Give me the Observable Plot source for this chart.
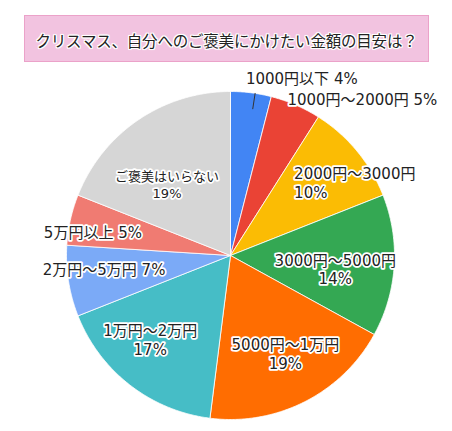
<!DOCTYPE html>
<html><head><meta charset="utf-8">
<script src="https://cdn.jsdelivr.net/npm/d3@7"></script>
<script src="https://cdn.jsdelivr.net/npm/@observablehq/plot@0.6"></script>
<style>
body{margin:0;background:#fff;width:452px;height:431px;overflow:hidden;position:relative;font-family:"Noto Sans CJK JP",sans-serif;}
#title{position:absolute;left:24px;top:15px;width:405px;height:47px;box-sizing:border-box;background:#f2c3e0;border:1px solid #eba2c9;
 text-align:center;line-height:43px;padding-top:3px;font-size:15.5px;color:#222;letter-spacing:-0.2px;
 text-shadow:1px 0 0 #fff,-1px 0 0 #fff,0 1px 0 #fff,0 -1px 0 #fff,1px 1px 0 #fff,-1px -1px 0 #fff,1px -1px 0 #fff,-1px 1px 0 #fff,0 0 3px #fff;}
#chart{position:absolute;left:0;top:62px;}
</style></head>
<body>
<div id="title"></div>
<div id="chart"></div>
<script>
// ---- data ----
const titleText = "クリスマス、自分へのご褒美にかけたい金額の目安は？";
const categories = ["1000円以下","1000円～2000円","2000円～3000円","3000円～5000円","5000円～1万円","1万円～2万円","2万円～5万円","5万円以上","ご褒美はいらない"];
const shares = [4,5,10,14,19,17,7,5,19];
const colors = ["#4285f4","#ea4335","#fbbc04","#34a853","#ff6d01","#46bdc6","#7baaf7","#f07b72","#d6d6d6"];

// ---- label layout (pixels relative to pie centre) ----
const labelRadius = [179,171,115,105,110,113,128,141,88];
const labelShift = [[-7,0],[-11,0],[-25,0],[0,7],[5,0],[-11,-5],[0,-7],[0,7],[-14,1]];
const labelAnchor = ["start","start","start","middle","middle","middle","middle","middle","middle"];
const labelBreak = [false,false,true,true,true,true,false,false,true];
const labelSmall = [false,false,false,false,false,false,false,false,true];

document.getElementById("title").textContent = titleText;

const R = 164, W = 452, H = 369, CX = 230, CY = 193;
const total = d3.sum(shares);
let cum = 0;
const slices = categories.map((c,i) => {
  const a0 = cum/total*2*Math.PI; cum += shares[i];
  const a1 = cum/total*2*Math.PI;
  return {c, i, a0, a1, mid:(a0+a1)/2};
});
const pts = [];
for (const s of slices) {
  pts.push({c:s.c, x:0, y:0});
  const n = Math.max(2, Math.ceil((s.a1-s.a0)/(Math.PI/360)));
  for (let k=0;k<=n;k++){ const a = s.a0+(s.a1-s.a0)*k/n; pts.push({c:s.c, x:Math.sin(a), y:Math.cos(a)}); }
  pts.push({c:s.c, x:0, y:0});
}
const labels = slices.map(s => {
  const r = labelRadius[s.i]/R;
  return {
    x: Math.sin(s.mid)*r + labelShift[s.i][0]/R,
    y: Math.cos(s.mid)*r - labelShift[s.i][1]/R,
    text: s.c + (labelBreak[s.i] ? "\n" : " ") + shares[s.i] + "%",
    anchor: labelAnchor[s.i], small: labelSmall[s.i]
  };
});
const b = slices[0];
const leader = [0.905,1.0].map(r => ({x:Math.sin(b.mid+0.025)*r, y:Math.cos(b.mid+0.025)*r}));
const font = '"DejaVu Sans","Noto Sans CJK JP",sans-serif';
const textOpts = {x:"x", y:"y", text:"text", fill:"#222", stroke:"white", strokeWidth:3.5, fontFamily:font, lineAnchor:"middle"};

const chart = Plot.plot({
  width: W, height: H, margin: 0,
  x: {domain: [-CX/R, (W-CX)/R], axis: null},
  y: {domain: [-(H-CY)/R, CY/R], axis: null},
  color: {domain: categories, range: colors},
  style: {background: "transparent"},
  marks: [
    Plot.line(pts, {x:"x", y:"y", z:"c", fill:"c", stroke:"white", strokeWidth:0.8, curve:"linear"}),
    Plot.line(leader, {x:"x", y:"y", stroke:"#333", strokeWidth:1}),
    Plot.text(labels.filter(d=>d.anchor==="start"), {...textOpts, textAnchor:"start", fontSize:15, lineHeight:1.25}),
    Plot.text(labels.filter(d=>d.anchor==="middle" && !d.small), {...textOpts, textAnchor:"middle", fontSize:15, lineHeight:1.25}),
    Plot.text(labels.filter(d=>d.small), {...textOpts, textAnchor:"middle", fontSize:13, lineHeight:1.3})
  ]
});
document.getElementById("chart").appendChild(chart);
</script>
</body></html>
